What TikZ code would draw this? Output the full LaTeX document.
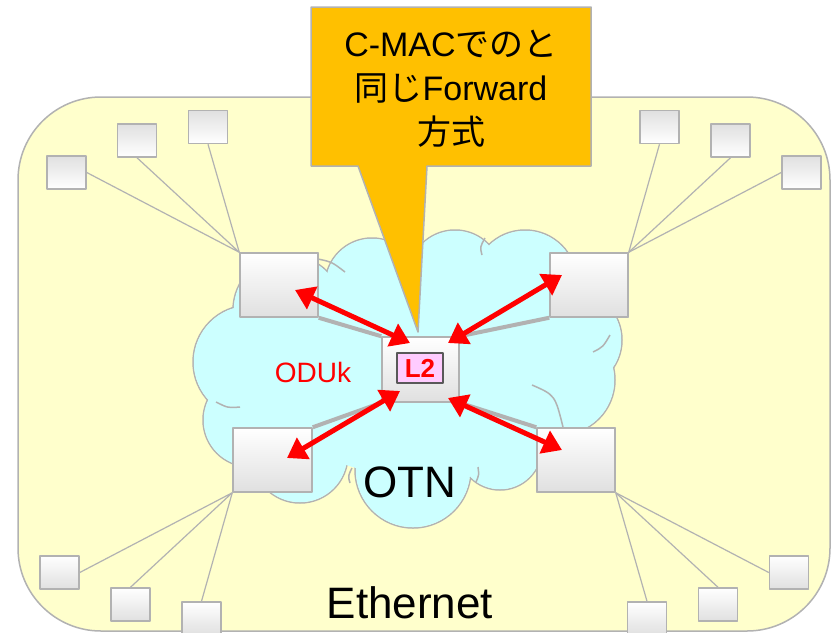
\documentclass[tikz,border=0pt]{standalone}
\usepackage{fontspec}
\setmainfont{Liberation Sans}
\newfontfamily\cjk{Noto Sans CJK JP}
\usetikzlibrary{arrows.meta}
\definecolor{bgyellow}{HTML}{FFFFCC}
\definecolor{cloudcyan}{HTML}{CCFFFF}
\definecolor{edgegray}{HTML}{B2B2B2}
\definecolor{boxgray}{HTML}{E0E0E0}
\definecolor{calloutorange}{HTML}{FFC000}
\definecolor{tagpink}{HTML}{FFCCFF}
\definecolor{taggray}{HTML}{595959}
\begin{document}
\begin{tikzpicture}[x=1pt, y=-1pt, line join=round,
  box/.style={draw=edgegray, line width=1.5pt, top color=white, bottom color=boxgray,
    inner sep=0pt, minimum width=78pt, minimum height=64pt},
  leafdown/.style={box, minimum width=39pt, minimum height=33pt},
  leafup/.style={leafdown, top color=boxgray, bottom color=white},
  leafline/.style={draw=edgegray, line width=1.2pt},
  cloudline/.style={draw=edgegray, line width=1.5pt},
  link/.style={draw=edgegray, line width=4pt},
  redarrow/.style={{Triangle[length=19pt,width=24pt]}-{Triangle[length=19pt,width=24pt]},
    draw=red, line width=5pt}]
	\useasboundingbox (0,0) rectangle (832,632);

	% 1. Ethernet area
	\filldraw[fill=bgyellow, draw=edgegray, line width=1.5pt, rounded corners=83pt]
	(18,97) rectangle (830,631);

	% 2. Central nodes (placed first, the lines hang off them)
	\node[box] (ul) at (279,285) {};
	\node[box] (ur) at (589,285) {};
	\node[box, minimum width=79pt] (ll) at (272.5,460) {};
	\node[box] (lr) at (576,460) {};

	% 3. Terminals
	\node[leafup] (ta) at (66.5,172.5) {};
	\node[leafup] (tb) at (137,140.5) {};
	\node[leafup] (tc) at (208,127) {};
	\node[leafup] (td) at (659.5,127) {};
	\node[leafup] (te) at (730.5,140.5) {};
	\node[leafup] (tf) at (801.5,172.5) {};
	\node[leafdown] (tg) at (59.5,572.5) {};
	\node[leafdown] (th) at (130.5,604.5) {};
	\node[leafdown] (ti) at (201.5,618.5) {};
	\node[leafdown] (tj) at (647,618.5) {};
	\node[leafdown] (tk) at (718,604.5) {};
	\node[leafdown] (tl) at (789,572.5) {};

	\draw[leafline] (ta.east) -- (ul.north west) -- (tb.south);
	\draw[leafline] (tc.south) -- (ul.north west);
	\draw[leafline] (td.south) -- (ur.north east) -- (te.south);
	\draw[leafline] (tf.west) -- (ur.north east);
	\draw[leafline] (tg.east) -- (ll.south west) -- (th.north);
	\draw[leafline] (ti.north) -- (ll.south west);
	\draw[leafline] (tj.north) -- (lr.south east) -- (tk.north);
	\draw[leafline] (tl.west) -- (lr.south east);

	% 4. OTN cloud: outlined circles, then filled again to hide inner edges
	\foreach \cx/\cy/\r in {288/310/55, 372/285/47, 455/277/47, 525/282/52, 572/340/50,
	  560/380/55, 500/448/42, 413/470/58, 300/455/48, 250/420/47, 250/362/57}
	  \draw[cloudline] (\cx,\cy) circle (\r);
	\foreach \cx/\cy/\r in {288/310/55, 372/285/47, 455/277/47, 525/282/52, 572/340/50,
	  560/380/55, 500/448/42, 413/470/58, 300/455/48, 250/420/47, 250/362/57}
	  \fill[cloudcyan] (\cx,\cy) circle (\r-0.75);
	\fill[cloudcyan] (410,370) ellipse (150 and 105);
	% inner folds of the cloud
	\draw[cloudline] (318,259) .. controls (332,262) .. (345,272);
	\draw[cloudline] (482,255) .. controls (480,247) .. (485,238);
	\draw[cloudline] (593,352) .. controls (603,347) .. (610,335);
	\draw[cloudline] (532,385) .. controls (555,395) .. (563,427);
	\draw[cloudline] (240,407) .. controls (228,408) .. (216,402);
	\draw[cloudline] (350,483) .. controls (348,476) .. (352,468);
	\draw[cloudline] (478,467) .. controls (479,475) .. (476,482);

	% redraw the central nodes above the cloud
	\node[box] at (ul) {};
	\node[box] at (ur) {};
	\node[box, minimum width=79pt] at (ll) {};
	\node[box] at (lr) {};

	% 5. Hub with L2 switch
	\node[box, minimum width=77pt, minimum height=65pt] (hub) at (420.5,369.5) {};
	\draw[link] (ul.south east) -- (hub.north west);
	\draw[link] (ur.south west) -- (hub.north east);
	\draw[link] (ll.north east) -- (hub.south west);
	\draw[link] (lr.north west) -- (hub.south east);
	\node[draw=taggray, line width=1.5pt, fill=tagpink, minimum width=46pt, minimum height=30pt,
	  inner sep=0pt, text=red, font=\fontsize{26}{28}\selectfont\bfseries] (tag) at (420,368) {L2};

	% 6. Forwarding arrows
	\coordinate (ul-in) at (295,290);
	\coordinate (ur-in) at (562,275);
	\coordinate (ll-in) at (287,458);
	\coordinate (lr-in) at (562,450);
	\coordinate (hub-ul) at (410,343);
	\coordinate (hub-ur) at (448,343);
	\coordinate (hub-ll) at (400,391);
	\coordinate (hub-lr) at (448,398);
	\draw[redarrow] (ul-in) -- (hub-ul);
	\draw[redarrow] (ur-in) -- (hub-ur);
	\draw[redarrow] (ll-in) -- (hub-ll);
	\draw[redarrow] (lr-in) -- (hub-lr);

	% 7. Labels
	\node[text=red, font=\fontsize{28}{32}\selectfont] (oduk) at (313,372) {ODUk};
	\node[font=\fontsize{44}{50}\selectfont] (otn) at (410,482) {OTN};
	\node[font=\fontsize{44}{50}\selectfont] (eth) at (410,603) {Ethernet};

	% 8. Callout
	\filldraw[fill=calloutorange, draw=edgegray, line width=1.5pt]
	(311,7) -- (591,7) -- (591,166) -- (427,166) -- (418,332) -- (358,166) -- (311,166) -- cycle;
	\node[align=center, font=\fontsize{34}{44}\selectfont] (note) at (451,89)
	  {C-MAC{\cjk でのと}\\{\cjk 同じ}Forward\\{\cjk 方式}};
\end{tikzpicture}
\end{document}
